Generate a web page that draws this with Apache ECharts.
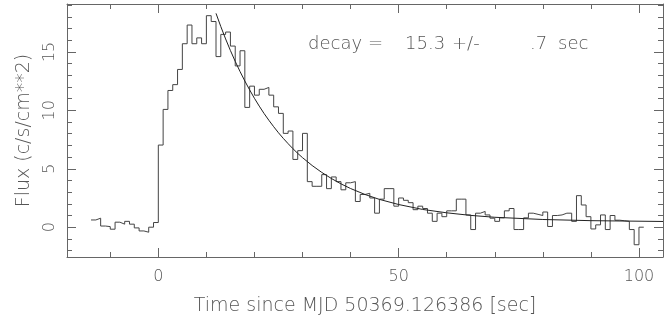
<!DOCTYPE html>
<html><head><meta charset="utf-8">
<script src="https://cdn.jsdelivr.net/npm/echarts@6/dist/echarts.min.js"></script>
<style>html,body{margin:0;padding:0;background:#fff}#c{width:664px;height:327px}</style>
</head><body><div id="c"></div>
<script>
// ---- data ----
const binStart = -14;   // left edge of first 1-s bin
const binWidth = 1;
const fluxValues = [
  0.62, 0.77, 0.10, 0.05, -0.17, 0.43, 0.26, 0.50, 0.26, -0.06, -0.32, -0.43, 0.00, 0.40,
  7.03, 10.08, 11.7, 12.2, 13.5, 15.7, 17.3, 15.7, 16.2, 15.7,
  18.1, 17.6, 14.6, 16.5, 16.7, 15.5, 13.8, 15.1, 10.25, 12.07,
  11.3, 11.8, 11.96, 11.3, 10.3, 9.74, 8.03, 8.23, 5.8, 6.55,
  8.03, 3.9, 3.5, 3.5, 4.5, 3.3, 4.3, 3.9, 3.2, 3.8,
  3.9, 2.2, 2.8, 2.9, 2.5, 1.2, 2.4, 3.3, 3.3, 1.8,
  2.5, 2.3, 2.1, 1.5, 1.8, 1.6, 1.2, 0.5, 1.2, 0.9,
  1.4, 1.4, 2.4, 2.4, 1.05, -0.2, 1.2, 1.35, 1.05, 0.77,
  0.5, 0.8, 1.4, 1.6, -0.2, -0.2, 0.8, 1.2, 1.1, 1.0,
  1.3, 0.06, 1.0, 1.05, 1.2, 1.2, 0.5, 2.7, 1.9, 0.9,
  -0.15, 0.2, 1.05, -0.2, 1.0, 0.6, 0.55, 0.5, -0.2, -1.5,
  0.0
];
const fitTimes  = [12, 13, 14, 15, 16, 17, 18, 19, 20, 21, 22, 23, 24, 25, 26, 27, 28, 29, 30,
                   32, 34, 36, 38, 40, 43, 46, 50, 55, 60, 65, 70, 80, 90, 105];
const fitValues = [18.30, 17.17, 16.11, 15.12, 14.19, 13.32, 12.51, 11.75, 11.03, 10.36, 9.73, 9.15, 8.60, 8.08, 7.60, 7.15, 6.72, 6.32, 5.95,
                   5.28, 4.69, 4.17, 3.71, 3.31, 2.80, 2.38, 1.94, 1.52, 1.23, 1.01, 0.85, 0.66, 0.56, 0.49];
const xMajorTicks = [0, 50, 100];
const xMinorTicks = [-10, 0, 10, 20, 30, 40, 50, 60, 70, 80, 90, 100];
const yMajorTicks = [0, 5, 10, 15];
const yMinorTicks = [-2, -1, 0, 1, 2, 3, 4, 5, 6, 7, 8, 9, 10, 11, 12, 13, 14, 15, 16, 17, 18, 19];
const xTitle = 'Time since MJD 50369.126386 [sec]';
const yTitle = 'Flux (c/s/cm**2)';
const decayWords = ['decay', '=', '15.3', '+/-', '.7', 'sec'];

// ---- chart ----
const X_MIN = -19, X_MAX = 105, Y_MIN = -2.55, Y_MAX = 19.1;
const FONT = 'DejaVu Sans';
const TXT = '#555';
const AX = '#666';
const decayLeft = [308, 368, 405, 452, 530, 558];

const histData = fluxValues.map((v, i) => [binStart + i * binWidth, v]);
histData.push([binStart + fluxValues.length * binWidth, fluxValues[fluxValues.length - 1]]);
const fitData = fitTimes.map((t, i) => [t, fitValues[i]]);

function tickAxis(kind, pos, ticks, len, showLine, labels) {
  const o = {
    type: 'value', position: pos,
    min: kind === 'x' ? X_MIN : Y_MIN, max: kind === 'x' ? X_MAX : Y_MAX,
    axisLine: { show: showLine, onZero: false, lineStyle: { color: AX, width: 1 } },
    axisTick: { show: true, inside: true, length: len, customValues: ticks, lineStyle: { color: AX, width: 1 } },
    axisLabel: { show: false },
    splitLine: { show: false }
  };
  if (labels) {
    o.axisLabel = {
      show: true, customValues: ticks, color: TXT, fontFamily: FONT, fontSize: 16, fontWeight: 200,
      margin: kind === 'x' ? 12 : 9, rotate: kind === 'y' ? 90 : 0
    };
  }
  return o;
}

const titleStyle = { color: TXT, fontFamily: FONT, fontSize: 19, fontWeight: 200 };
const xAxes = [
  Object.assign(tickAxis('x', 'bottom', xMajorTicks, 9, true, true), {
    name: xTitle, nameLocation: 'middle', nameGap: 40, nameTextStyle: titleStyle
  }),
  tickAxis('x', 'bottom', xMinorTicks, 5, false, false),
  tickAxis('x', 'top', xMajorTicks, 9, true, false),
  tickAxis('x', 'top', xMinorTicks, 5, false, false)
];
const yAxes = [
  Object.assign(tickAxis('y', 'left', yMajorTicks, 9, true, true), {
    name: yTitle, nameLocation: 'middle', nameGap: 33, nameRotate: 90, nameTextStyle: titleStyle
  }),
  tickAxis('y', 'left', yMinorTicks, 5, false, false),
  tickAxis('y', 'right', yMajorTicks, 9, true, false),
  tickAxis('y', 'right', yMinorTicks, 5, false, false)
];

const chart = echarts.init(document.getElementById('c'), null, { renderer: 'canvas' });
chart.setOption({
  animation: false,
  backgroundColor: '#fff',
  grid: { left: 67, right: 1, top: 4, bottom: 70, containLabel: false },
  xAxis: xAxes,
  yAxis: yAxes,
  series: [
    {
      type: 'line', step: 'end', data: histData, showSymbol: false, symbol: 'none',
      lineStyle: { color: '#444', width: 1 }, xAxisIndex: 0, yAxisIndex: 0, silent: true
    },
    {
      type: 'line', data: fitData, smooth: false, showSymbol: false, symbol: 'none',
      lineStyle: { color: '#222', width: 1 }, xAxisIndex: 0, yAxisIndex: 0, silent: true, clip: true
    }
  ],
  graphic: decayWords.map((w, i) => ({
    type: 'text', left: decayLeft[i], top: 35,
    style: { text: w, fill: TXT, fontFamily: FONT, fontSize: 18, fontWeight: 200 }
  }))
});
</script></body></html>
